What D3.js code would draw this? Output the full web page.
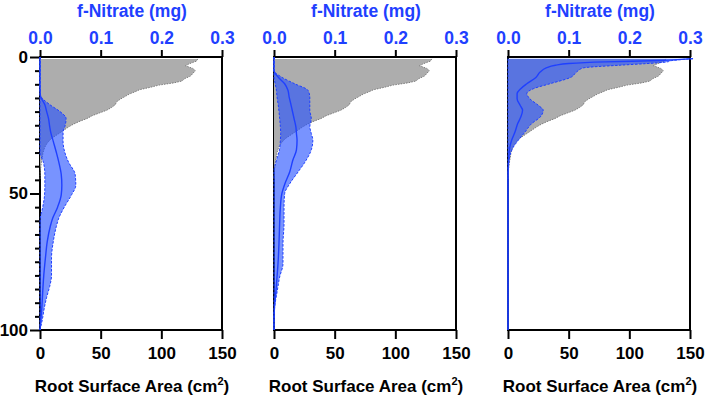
<!DOCTYPE html>
<html><head><meta charset="utf-8">
<script src="https://cdn.jsdelivr.net/npm/d3@7"></script>
<style>
html,body{margin:0;padding:0;background:#fff;}
text{font-family:"Liberation Sans",Arial,Helvetica,sans-serif;font-weight:bold;}
</style></head>
<body><svg id="c" width="706" height="398"></svg>
<script>
// ---- data ----
const rootDepth = [0.7,1.5,2.5,3.2,4.2,5,6,7,8,8.8,9.5,10.3,11,12,12.8,13.5,14.5,15.5,16.5,17.5,18.5,19.5,20.5,21.5,22.5,23.5,24.5,25.5,27,28.5,30,31.5,33,35,37,39,42,45];
const rootArea  = [130,129,123,120,126,128,126,124,119,117,110,98,92,82,78,74,70,66,63,62,59,55,49,43,39,33,28,24,19,14,9,6,4,2.5,1.8,1,0.3,0];

const p1Depth = [0,10,14,17.5,20,22.5,25.5,27.5,31,35,38.5,43,47,50.5,55,59,62,67.5,73.5,80,84,88,92,96,100];
const p1Upper = [0,0,0.001,0.0165,0.033,0.043,0.041,0.038,0.038,0.041,0.047,0.058,0.059,0.052,0.040,0.031,0.027,0.022,0.019,0.019,0.016,0.011,0.007,0.004,0];
const p1Mean  = [0,0,0.0005,0.008,0.011,0.014,0.016,0.0176,0.022,0.027,0.031,0.035,0.036,0.035,0.029,0.021,0.017,0.012,0.009,0.0062,0.005,0.004,0.003,0.0015,0];
const p1Lower = [0,0,0,0,0,0,0,0,0,0,0.0055,0.008,0.008,0.0075,0.0045,0.0005,0,0,0,0,0,0,0,0,0];

const p2Depth = [0,5,7.3,9.8,12.2,14.7,17,19.5,22.5,25.5,28,30.5,34,37.8,42,46.4,50,55,61,68.4,75.7,80.6,85.5,91.6,96.5,100];
const p2Upper = [0,0,0.012,0.034,0.056,0.059,0.059,0.059,0.0615,0.059,0.0615,0.064,0.0615,0.053,0.04,0.026,0.0176,0.0165,0.0165,0.0148,0.0148,0.0093,0.0055,0.0011,0,0];
const p2Mean  = [0,0,0.0066,0.0176,0.023,0.025,0.0275,0.030,0.033,0.036,0.037,0.038,0.037,0.031,0.026,0.018,0.013,0.0105,0.0093,0.0082,0.0066,0.005,0.0033,0.0008,0,0];
const p2Lower = [0,0,0,0.002,0.004,0.005,0.0066,0.008,0.0093,0.0105,0.011,0.0105,0.009,0.004,0,0,0,0,0,0,0,0,0,0,0,0];

const p3Depth = [0.6,1.3,1.8,2.4,3.0,4.0,5.5,7.5,9.8,11.6,13.4,15.3,17.7,19.5,22,24.4,27.5,30.5,33,36,40,45,100];
const p3Upper = [0.305,0.27,0.262,0.229,0.185,0.124,0.113,0.103,0.069,0.042,0.031,0.036,0.05,0.058,0.053,0.039,0.028,0.017,0.0088,0.0033,0.001,0,0];
const p3Mean  = [0.305,0.25,0.16,0.10,0.078,0.063,0.053,0.046,0.031,0.021,0.015,0.015,0.02,0.024,0.021,0.016,0.0115,0.006,0.003,0.0015,0.0005,0,0];
const p3Lower = [0,0,0,0,0,0,0,0,0,0,0,0,0,0,0,0,0,0,0,0,0,0,0];

const areaTicks = [0,50,100,150];
const nitrateTicks = [0,0.1,0.2,0.3];
const depthTicks = [0,50,100];
const depthMinor = [5,10,15,20,25,30,35,40,45,55,60,65,70,75,80,85,90,95];
const topTitle = "f-Nitrate (mg)";

// ---- layout ----
const svg = d3.select("#c");
const BLUE = "#1f40ff";
const panels = [
  {left:40, depth:p1Depth, upper:p1Upper, mean:p1Mean, lower:p1Lower, yAxis:true},
  {left:274, depth:p2Depth, upper:p2Upper, mean:p2Mean, lower:p2Lower, yAxis:false},
  {left:508, depth:p3Depth, upper:p3Upper, mean:p3Mean, lower:p3Lower, yAxis:false}
];
const PW = 182, TOP = 57, BOT = 330;
const y = d3.scaleLinear().domain([0,100]).range([TOP,BOT]);

panels.forEach(p => {
  const g = svg.append("g");
  const x = d3.scaleLinear().domain([0,150]).range([p.left,p.left+PW]);
  const xn = d3.scaleLinear().domain([0,0.3]).range([p.left,p.left+PW]);

  // frame
  const fr = g.append("g").attr("stroke","#000").attr("stroke-width",2);
  fr.append("line").attr("x1",p.left-1).attr("x2",p.left+PW+1).attr("y1",TOP).attr("y2",TOP);
  fr.append("line").attr("x1",p.left-1).attr("x2",p.left+PW+1).attr("y1",BOT).attr("y2",BOT);
  fr.append("line").attr("x1",p.left).attr("x2",p.left).attr("y1",TOP).attr("y2",BOT);
  fr.append("line").attr("x1",p.left+PW).attr("x2",p.left+PW).attr("y1",TOP).attr("y2",BOT);

  // bottom axis
  const ab = g.append("g").attr("transform",`translate(0,${BOT})`)
    .call(d3.axisBottom(x).tickValues(areaTicks).tickSize(9).tickSizeOuter(0).tickPadding(8));
  // top axis
  const at = g.append("g").attr("transform",`translate(0,${TOP})`)
    .call(d3.axisTop(xn).tickValues(nitrateTicks).tickFormat(d3.format(".1f")).tickSize(7).tickSizeOuter(0).tickPadding(6));
  [ab,at].forEach(a=>{
    a.select(".domain").remove();
    a.selectAll("line").attr("stroke-width",2);
  });
  at.selectAll("text").attr("fill",BLUE).attr("font-size",17.5);
  ab.selectAll("text").attr("fill","#000").attr("font-size",17);

  if (p.yAxis) {
    const al = g.append("g").attr("transform",`translate(${p.left},0)`)
      .call(d3.axisLeft(y).tickValues(depthTicks).tickSize(10).tickSizeOuter(0).tickPadding(2));
    al.select(".domain").remove();
    al.selectAll("line").attr("stroke-width",2);
    al.selectAll("text").attr("font-size",17).attr("fill","#000");
    const am = g.append("g").attr("transform",`translate(${p.left},0)`)
      .call(d3.axisLeft(y).tickValues(depthMinor).tickSize(5).tickSizeOuter(0).tickFormat(""));
    am.select(".domain").remove();
    am.selectAll("line").attr("stroke-width",2);
  }

  // root area (gray)
  const rootPts = rootDepth.map((d,i)=>({d, v:rootArea[i]}));
  g.append("path").datum(rootPts)
    .attr("d", d3.area().y(d=>y(d.d)).x0(x(0)).x1(d=>x(d.v)))
    .attr("fill","#adadad");
  g.append("path").datum(rootPts)
    .attr("d", d3.line().y(d=>y(d.d)).x(d=>x(d.v)))
    .attr("fill","none").attr("stroke","#666").attr("stroke-width",0.8).attr("stroke-dasharray","1.5,1.2");

  // nitrate band
  const pts = p.depth.map((d,i)=>({d, lo:p.lower[i], hi:p.upper[i], m:p.mean[i]}));
  const curve = d3.curveMonotoneY;
  g.append("path").datum(pts)
    .attr("d", d3.area().curve(curve).y(d=>y(d.d)).x0(d=>xn(d.lo)).x1(d=>xn(d.hi)))
    .attr("fill","#2550ff").attr("fill-opacity",0.62);
  ["lo","hi"].forEach(k=>{
    g.append("path").datum(pts)
      .attr("d", d3.line().curve(curve).y(d=>y(d.d)).x(d=>xn(d[k])))
      .attr("fill","none").attr("stroke",BLUE).attr("stroke-width",1).attr("stroke-dasharray","2.5,1.5");
  });
  g.append("path").datum(pts)
    .attr("d", d3.line().curve(curve).y(d=>y(d.d)).x(d=>xn(d.m)))
    .attr("fill","none").attr("stroke",BLUE).attr("stroke-width",1.4);

  // titles
  const cx = p.left + PW/2;
  g.append("text").attr("x",cx+1).attr("y",17).attr("text-anchor","middle")
    .attr("font-size",17.5).attr("fill",BLUE).text(topTitle);
  const t = g.append("text").attr("x",cx+1).attr("y",391.5).attr("text-anchor","middle")
    .attr("font-size",17).attr("fill","#000");
  t.append("tspan").text("Root Surface Area (cm");
  t.append("tspan").attr("font-size",11).attr("dy",-7).text("2");
  t.append("tspan").attr("dy",7).text(")");
});
</script></body></html>
